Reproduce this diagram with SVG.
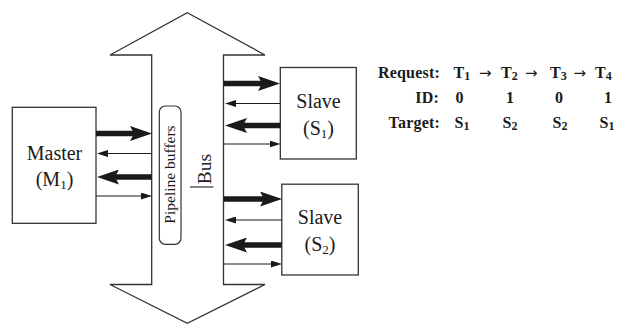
<svg xmlns="http://www.w3.org/2000/svg" width="617" height="325" viewBox="0 0 617 325">
<defs>
<style>
.box{fill:#fff;stroke:#333;stroke-width:1.3}
.lbl{font-family:"Liberation Serif","Times New Roman",serif;fill:#1a1a1a}
.tb{font-family:"Liberation Serif","Times New Roman",serif;font-weight:bold;font-size:16px;fill:#1a1a1a}
.ar{font-family:"DejaVu Sans",sans-serif;font-size:15px;fill:#1a1a1a}
.thick{stroke:#1a1a1a;stroke-width:5.5;fill:none;marker-end:url(#hk)}
.thin{stroke:#1a1a1a;stroke-width:1.2;fill:none;marker-end:url(#hn)}
</style>
<marker id="hk" markerUnits="userSpaceOnUse" viewBox="0 0 22 15" refX="9" refY="7.5" markerWidth="22" markerHeight="15" orient="auto">
<path d="M0,0 L22,7.5 L0,15 L4,7.5 z" fill="#1a1a1a"/>
</marker>
<marker id="hn" markerUnits="userSpaceOnUse" viewBox="0 0 11 7" refX="8" refY="3.5" markerWidth="11" markerHeight="7" orient="auto">
<path d="M0,0 L11,3.5 L0,7 z" fill="#1a1a1a"/>
</marker>
</defs>
<rect width="617" height="325" fill="#fff"/>

<g id="bus">
<path d="M187.3,12.7 L265,55 L223.5,55 L223.5,284.5 L265,284.5 L187.3,323.3 L110,284.5 L151.7,284.5 L151.7,55 L110,55 Z" fill="#fff" stroke="#333" stroke-width="1.3" stroke-linejoin="miter"/>
<text class="lbl" font-size="19.5" text-anchor="middle" transform="translate(210.5,169) rotate(-90)">Bus</text>
<line x1="190" y1="187" x2="213.5" y2="187" stroke="#333" stroke-width="1.2"/>
</g>

<g id="pipeline">
<rect x="159.3" y="106" width="21.7" height="138.3" rx="6" ry="6" fill="#fff" stroke="#333" stroke-width="1.2"/>
<text class="lbl" font-size="15.5" text-anchor="middle" transform="translate(174.5,174.5) rotate(-90)">Pipeline buffers</text>
</g>

<g id="master">
<rect class="box" x="12.3" y="107.3" width="83.7" height="116"/>
<text class="lbl" font-size="20" text-anchor="middle" x="54.5" y="160">Master</text>
<text class="lbl" font-size="20" text-anchor="middle" x="54.5" y="186">(M<tspan font-size="13" dy="3">1</tspan><tspan dy="-3">)</tspan></text>
</g>

<g id="slave1">
<rect class="box" x="280.3" y="67.5" width="76" height="91.5"/>
<text class="lbl" font-size="20" text-anchor="middle" x="318.5" y="108">Slave</text>
<text class="lbl" font-size="20" text-anchor="middle" x="318.5" y="135">(S<tspan font-size="13" dy="3">1</tspan><tspan dy="-3">)</tspan></text>
</g>

<g id="slave2">
<rect class="box" x="281.8" y="184.2" width="76.5" height="90.8"/>
<text class="lbl" font-size="20" text-anchor="middle" x="320" y="224">Slave</text>
<text class="lbl" font-size="20" text-anchor="middle" x="320" y="251">(S<tspan font-size="13" dy="3">2</tspan><tspan dy="-3">)</tspan></text>
</g>

<g id="connectors">
<line class="thick" x1="96" y1="133.5" x2="139" y2="133.5"/>
<line class="thin" x1="151.7" y1="153.5" x2="100" y2="153.5"/>
<line class="thick" x1="151.7" y1="177" x2="110" y2="177"/>
<line class="thin" x1="96" y1="196" x2="149" y2="196"/>

<line class="thick" x1="223.5" y1="83.5" x2="267" y2="83.5"/>
<line class="thin" x1="280.3" y1="103.5" x2="228" y2="103.5"/>
<line class="thick" x1="280.3" y1="125.5" x2="238" y2="125.5"/>
<line class="thin" x1="223.5" y1="144" x2="277.5" y2="144"/>

<line class="thick" x1="223.5" y1="199" x2="269" y2="199"/>
<line class="thin" x1="281.8" y1="220" x2="228" y2="220"/>
<line class="thick" x1="281.8" y1="245" x2="238" y2="245"/>
<line class="thin" x1="223.5" y1="264" x2="279" y2="264"/>
</g>

<g id="table">
<text class="tb" x="440" y="78" text-anchor="end" letter-spacing="0.2">Request:</text>
<text class="tb" x="439" y="102.5" text-anchor="end" letter-spacing="0.2">ID:</text>
<text class="tb" x="440" y="127.5" text-anchor="end" letter-spacing="0.2">Target:</text>

<text class="tb" x="453.5" y="78">T<tspan font-size="12" dy="2">1</tspan></text>
<text class="ar" x="479" y="78">→</text>
<text class="tb" x="501" y="78">T<tspan font-size="12" dy="2">2</tspan></text>
<text class="ar" x="525" y="78">→</text>
<text class="tb" x="550" y="78">T<tspan font-size="12" dy="2">3</tspan></text>
<text class="ar" x="573.5" y="78">→</text>
<text class="tb" x="595" y="78">T<tspan font-size="12" dy="2">4</tspan></text>

<text class="tb" x="455.5" y="102.5">0</text>
<text class="tb" x="506" y="102.5">1</text>
<text class="tb" x="555" y="102.5">0</text>
<text class="tb" x="604" y="102.5">1</text>

<text class="tb" x="454.5" y="127.5">S<tspan font-size="12" dy="2">1</tspan></text>
<text class="tb" x="502.5" y="127.5">S<tspan font-size="12" dy="2">2</tspan></text>
<text class="tb" x="552.5" y="127.5">S<tspan font-size="12" dy="2">2</tspan></text>
<text class="tb" x="599.5" y="127.5">S<tspan font-size="12" dy="2">1</tspan></text>
</g>
</svg>
